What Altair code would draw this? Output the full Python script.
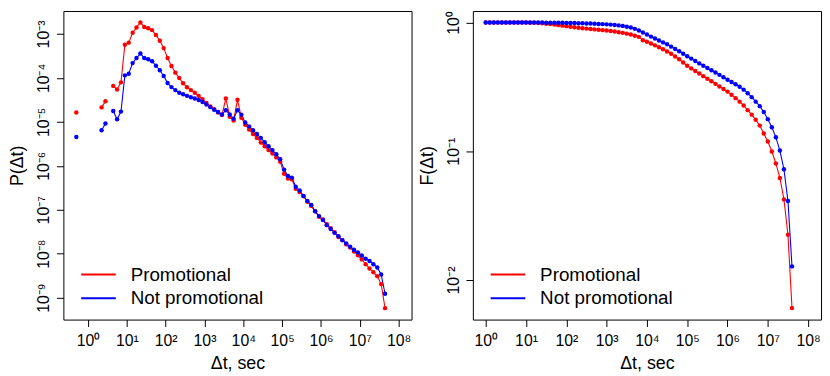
import altair as alt
import pandas as pd

# ---------------- data (log10 units) ----------------
SERIES = ["Promotional", "Not promotional"]
COLORS = ["#ff0000", "#0000ff"]

# left panel: P(dt); None = empty bin (breaks the line)
LEFT_LOGX = [-0.30, 0.25, 0.35, 0.45, 0.55, 0.65, 0.75, 0.85, 0.95,
             1.05, 1.15, 1.25, 1.35, 1.45, 1.55, 1.65, 1.75, 1.85, 1.95,
             2.05, 2.15, 2.25, 2.35, 2.45, 2.55, 2.65, 2.75, 2.85, 2.95,
             3.05, 3.15, 3.25, 3.35, 3.45, 3.55, 3.65, 3.75, 3.85, 3.95,
             4.05, 4.15, 4.25, 4.35, 4.45, 4.55, 4.65, 4.75, 4.85, 4.95,
             5.05, 5.15, 5.25, 5.35, 5.45, 5.55, 5.65, 5.75, 5.85, 5.95,
             6.05, 6.15, 6.25, 6.35, 6.45, 6.55, 6.65, 6.75, 6.85, 6.95,
             7.05, 7.15, 7.25, 7.35, 7.45, 7.55, 7.65]
LEFT_PROMO = [-4.789, None, -4.671, -4.533, None, -4.182, -4.263, -4.101, -3.247,
              -3.197, -2.972, -2.853, -2.737, -2.840, -2.869, -2.912, -3.022, -3.153, -3.322,
              -3.547, -3.729, -3.880, -4.001, -4.123, -4.211, -4.277, -4.336, -4.408, -4.482,
              -4.570, -4.649, -4.714, -4.789, -4.846, -4.467, -4.883, -4.971, -4.496, -4.905,
              -5.065, -5.174, -5.277, -5.365, -5.468, -5.555, -5.643, -5.720, -5.809, -5.906,
              -6.182, -6.291, -6.306, -6.525, -6.598, -6.694, -6.817, -6.913, -7.036, -7.160,
              -7.219, -7.329, -7.423, -7.511, -7.620, -7.692, -7.789, -7.861, -7.949, -8.036,
              -8.130, -8.240, -8.336, -8.424, -8.511, -8.693, -9.240]
LEFT_NOTPROMO = [-5.343, None, -5.190, -5.036, None, -4.752, -4.942, -4.767, -3.942,
                 -3.904, -3.663, -3.547, -3.445, -3.547, -3.576, -3.620, -3.723, -3.825, -3.957,
                 -4.117, -4.209, -4.277, -4.336, -4.373, -4.408, -4.439, -4.467, -4.504, -4.548,
                 -4.605, -4.664, -4.723, -4.774, -4.833, -4.736, -4.833, -4.927, -4.736, -4.839,
                 -5.014, -5.102, -5.190, -5.277, -5.365, -5.463, -5.557, -5.643, -5.737, -5.853,
                 -6.087, -6.234, -6.269, -6.475, -6.563, -6.685, -6.803, -6.891, -7.036, -7.145,
                 -7.233, -7.351, -7.438, -7.526, -7.605, -7.692, -7.767, -7.839, -7.911, -7.970,
                 -8.043, -8.117, -8.167, -8.240, -8.314, -8.474, -8.912]

# right panel: F(dt)
RIGHT_LOGX = [0.0, 0.1, 0.2, 0.3, 0.4, 0.5, 0.6, 0.7, 0.8, 0.9,
              1.0, 1.1, 1.2, 1.3, 1.4, 1.5, 1.6, 1.7, 1.8, 1.9,
              2.0, 2.1, 2.2, 2.3, 2.4, 2.5, 2.6, 2.7, 2.8, 2.9,
              3.0, 3.1, 3.2, 3.3, 3.4, 3.5, 3.6, 3.7, 3.8, 3.9,
              4.0, 4.1, 4.2, 4.3, 4.4, 4.5, 4.6, 4.7, 4.8, 4.9,
              5.0, 5.1, 5.2, 5.3, 5.4, 5.5, 5.6, 5.7, 5.8, 5.9,
              6.0, 6.1, 6.2, 6.3, 6.4, 6.5, 6.6, 6.7, 6.8, 6.9,
              7.0, 7.1, 7.2, 7.3, 7.4, 7.5, 7.6]
RIGHT_PROMO = [0.0, 0.0, 0.0, 0.0, 0.0, 0.0, 0.0, 0.0, 0.0, 0.0,
               -0.001, -0.002, -0.003, -0.005, -0.007, -0.010, -0.013, -0.017, -0.021, -0.025,
               -0.029, -0.033, -0.037, -0.041, -0.045, -0.048, -0.051, -0.054, -0.057, -0.060,
               -0.063, -0.067, -0.071, -0.076, -0.081, -0.087, -0.094, -0.103, -0.112, -0.138,
               -0.150, -0.163, -0.178, -0.193, -0.208, -0.226, -0.243, -0.264, -0.286, -0.311,
               -0.336, -0.357, -0.377, -0.396, -0.417, -0.437, -0.457, -0.477, -0.497, -0.517,
               -0.537, -0.562, -0.588, -0.615, -0.645, -0.681, -0.716, -0.756, -0.801, -0.862,
               -0.924, -1.002, -1.095, -1.208, -1.374, -1.648, -2.218]
RIGHT_NOTPROMO = [0.0, 0.0, 0.0, 0.0, 0.0, 0.0, 0.0, 0.0, 0.0, 0.0,
                  0.0, -0.001, -0.001, -0.001, -0.001, -0.002, -0.002, -0.002, -0.003, -0.003,
                  -0.004, -0.004, -0.005, -0.006, -0.007, -0.008, -0.009, -0.010, -0.012, -0.013,
                  -0.015, -0.017, -0.020, -0.023, -0.027, -0.033, -0.040, -0.050, -0.063, -0.078,
                  -0.094, -0.110, -0.125, -0.140, -0.155, -0.170, -0.188, -0.206, -0.224, -0.243,
                  -0.263, -0.281, -0.299, -0.318, -0.336, -0.354, -0.371, -0.389, -0.407, -0.425,
                  -0.445, -0.462, -0.480, -0.500, -0.522, -0.550, -0.580, -0.615, -0.650, -0.696,
                  -0.751, -0.814, -0.892, -0.995, -1.140, -1.387, -1.894]

X_TICKS = [1, 10, 100, 1e3, 1e4, 1e5, 1e6, 1e7, 1e8]
LEFT_Y_TICKS = [1e-9, 1e-8, 1e-7, 1e-6, 1e-5, 1e-4, 1e-3]
RIGHT_Y_TICKS = [1e-2, 1e-1, 1]

LEFT_X_DOMAIN = [10 ** -0.633, 10 ** 8.332]
LEFT_Y_DOMAIN = [10 ** -9.5, 10 ** -2.477]
RIGHT_X_DOMAIN = [10 ** -0.32, 10 ** 8.32]
RIGHT_Y_DOMAIN = [10 ** -2.307, 10 ** 0.0887]


def frame(logx, lists):
    rows = []
    for name, vals in zip(SERIES, lists):
        seg = 0
        for lx, lv in zip(logx, vals):
            if lv is None:
                seg += 1
                continue
            rows.append({"x": 10 ** lx, "y": 10 ** lv, "series": name, "seg": seg})
    return pd.DataFrame(rows)


left_df = frame(LEFT_LOGX, [LEFT_PROMO, LEFT_NOTPROMO])
right_df = frame(RIGHT_LOGX, [RIGHT_PROMO, RIGHT_NOTPROMO])

SUP = "⁰¹²³⁴⁵⁶⁷⁸⁹"
EXP = "abs(round(log(datum.value)/LN10))"
LABEL_EXPR = (f"'10' + (datum.value < 0.5 ? '⁻' : '') + "
              f"substring('{SUP}', {EXP}, {EXP} + 1)")

FONT = "Liberation Sans"
# long horizontal legend line drawn as a custom symbol path
LEGEND_LINE = "M-2.5,0L2.5,0"


def panel(df, xdom, ydom, yticks, ytitle, lx, ly):
    x = alt.X("x:Q",
              scale=alt.Scale(type="log", domain=xdom, nice=False),
              axis=alt.Axis(values=X_TICKS, labelExpr=LABEL_EXPR, title="Δt, sec",
                            labelFlush=False, labelOverlap=False,
                            labelPadding=6, titlePadding=6))
    y = alt.Y("y:Q",
              scale=alt.Scale(type="log", domain=ydom, nice=False),
              axis=alt.Axis(values=yticks, labelExpr=LABEL_EXPR, title=ytitle,
                            labelAngle=-90, labelAlign="center",
                            labelBaseline="alphabetic",
                            labelFlush=False, labelOverlap=False,
                            labelPadding=8, titlePadding=9))
    color = alt.Color("series:N",
                      scale=alt.Scale(domain=SERIES, range=COLORS),
                      legend=alt.Legend(title=None, orient="none",
                                        legendX=lx, legendY=ly,
                                        symbolType=LEGEND_LINE, symbolSize=196,
                                        symbolStrokeWidth=2, labelFontSize=19,
                                        labelFont=FONT, labelOffset=23,
                                        rowPadding=4, padding=0,
                                        labelColor="black"))
    base = alt.Chart(df)
    lines = base.mark_line(strokeWidth=1.1, clip=True).encode(
        x=x, y=y, color=color, detail="seg:N")
    points = base.mark_circle(size=20, opacity=1, clip=True).encode(
        x=x, y=y, color=color)
    return alt.layer(lines, points).properties(width=352, height=312)


left = panel(left_df, LEFT_X_DOMAIN, LEFT_Y_DOMAIN, LEFT_Y_TICKS, "P(Δt)", 26, 257)
right = panel(right_df, RIGHT_X_DOMAIN, RIGHT_Y_DOMAIN, RIGHT_Y_TICKS, "F(Δt)", 26, 257)

chart = alt.hconcat(left, right, spacing=5).resolve_scale(
    color="independent", x="independent", y="independent"
).properties(
    padding={"left": 0, "top": 0, "right": 0, "bottom": 0}
).configure(
    font=FONT, background="white"
).configure_view(
    stroke="black", strokeWidth=1
).configure_axis(
    labelFont=FONT, titleFont=FONT, labelFontSize=16, titleFontSize=18,
    titleFontWeight="normal", labelColor="black", titleColor="black",
    tickColor="black", tickSize=7, tickWidth=1, domain=False, grid=False
)

chart.save("out.html", embed_options={"renderer": "svg", "actions": False})
